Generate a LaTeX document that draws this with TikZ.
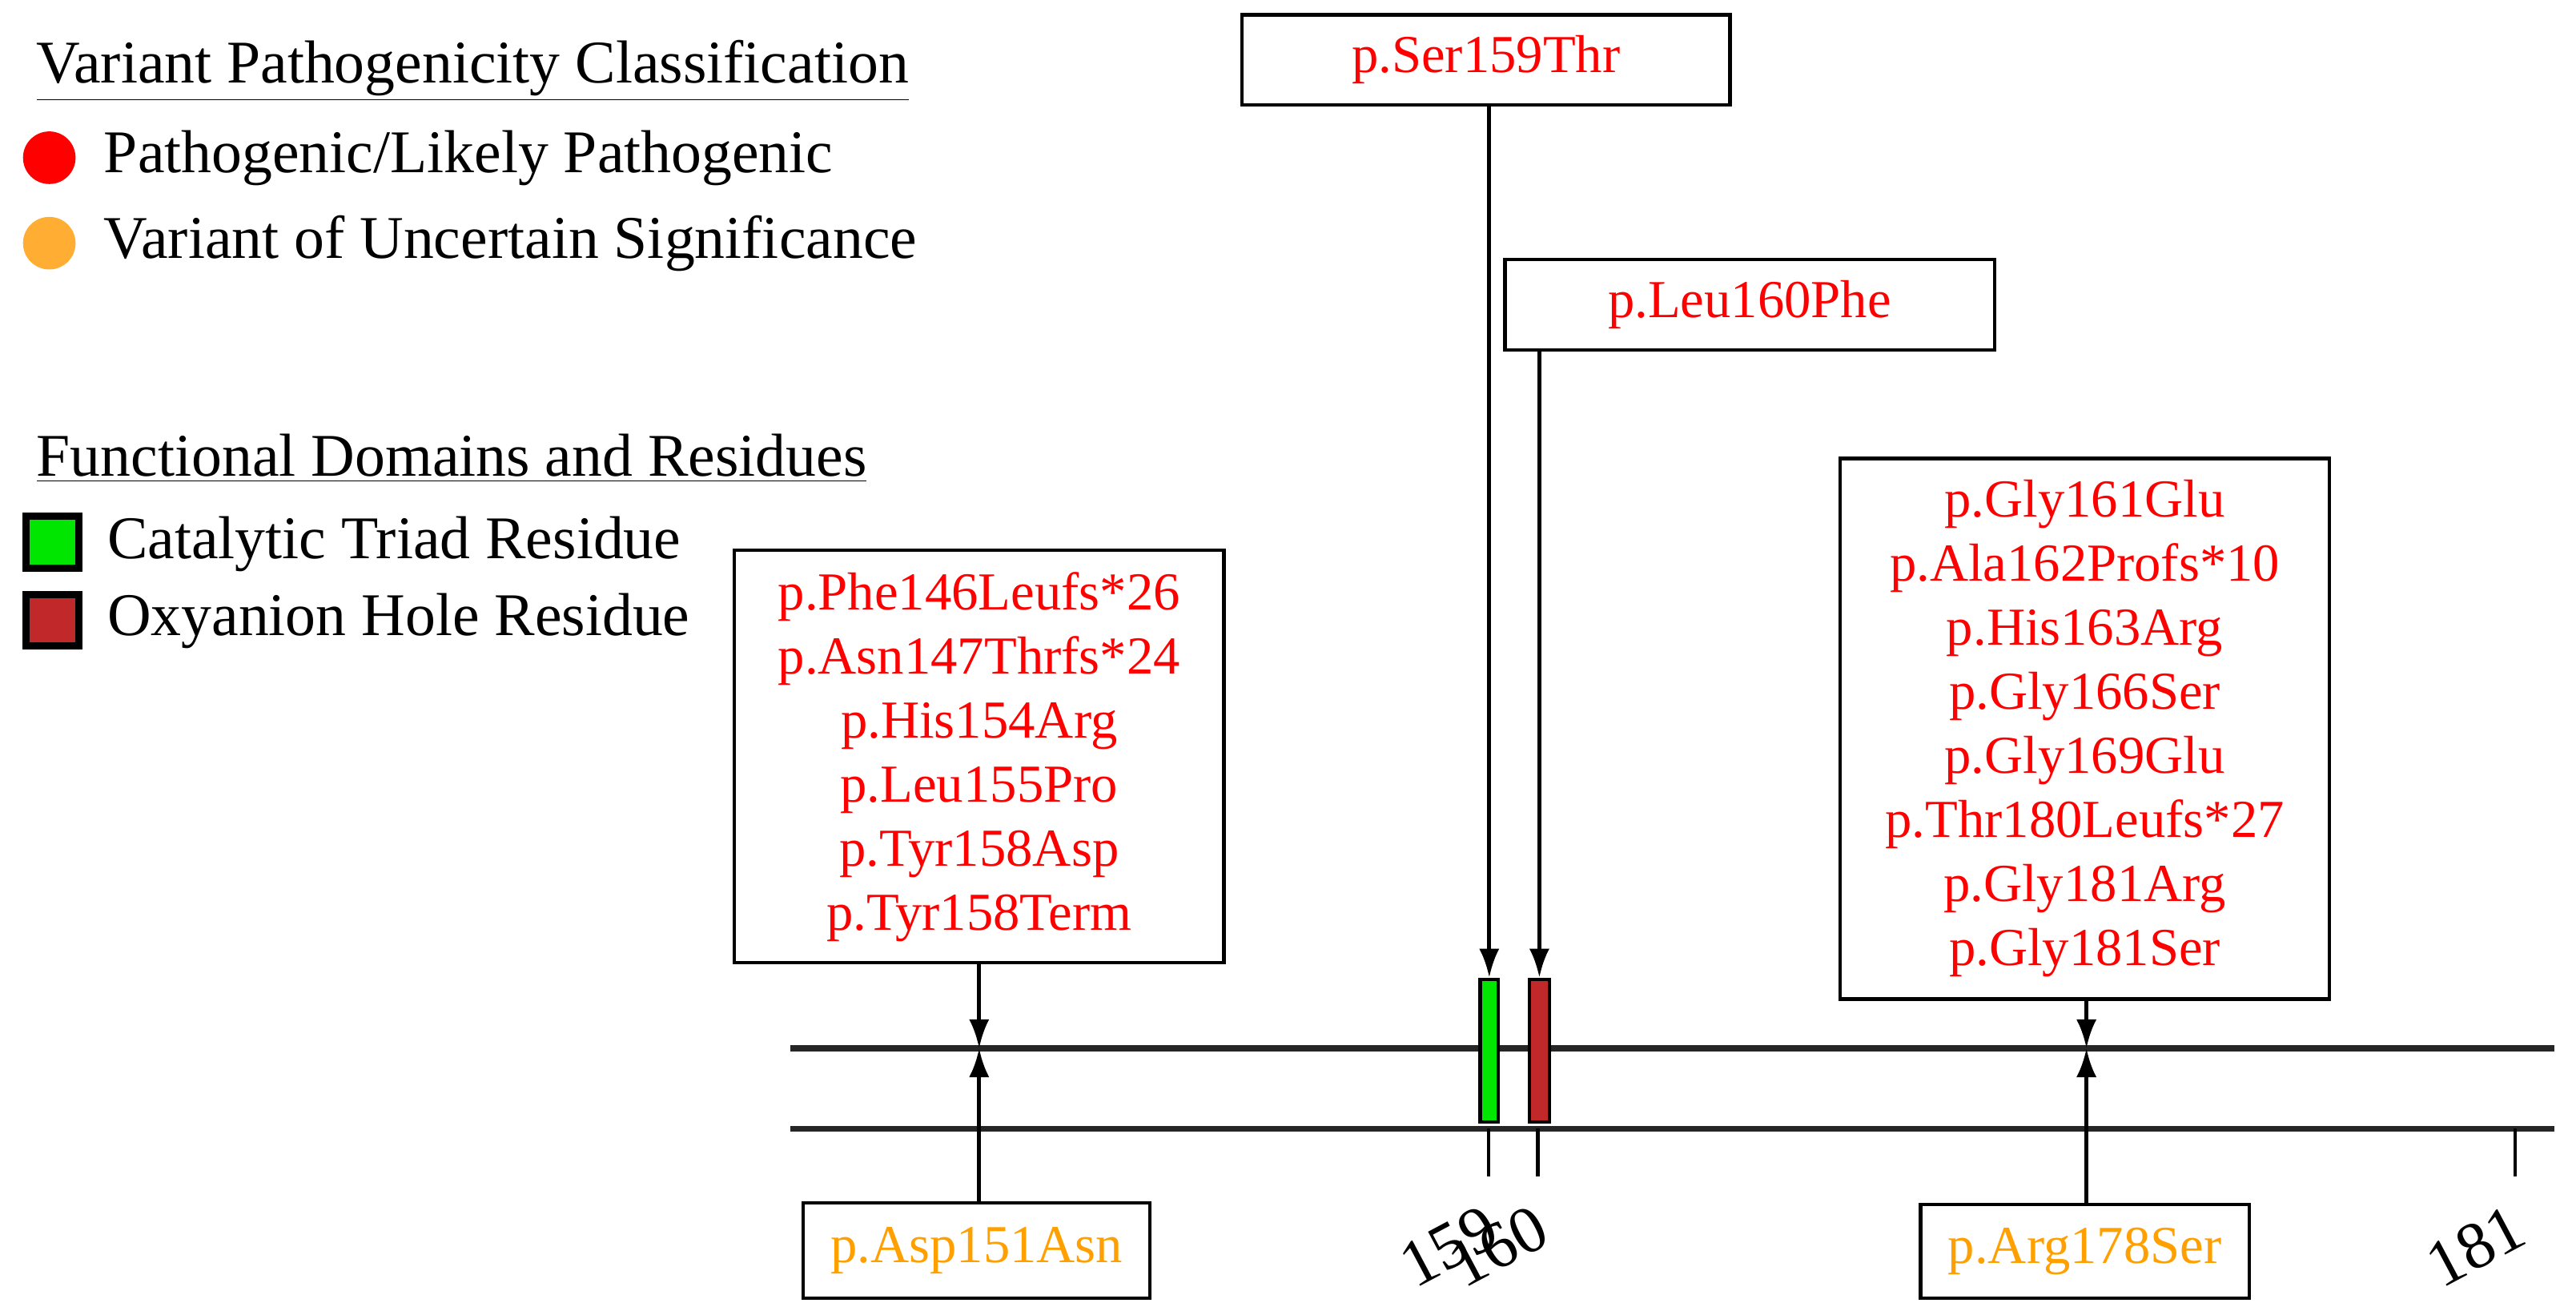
\documentclass[tikz,border=0pt]{standalone}
\usepackage{fontspec}
\setmainfont{Liberation Serif}
\usetikzlibrary{arrows.meta}
\definecolor{vus}{HTML}{FFA000}
\definecolor{vusdot}{HTML}{FFAD33}
\definecolor{oxy}{HTML}{C0282A}
\definecolor{cat}{HTML}{00E600}
\begin{document}
\begin{tikzpicture}[x=0.02cm,y=-0.02cm,
  txt/.style={font=\fontsize{21}{24}\selectfont,inner sep=0pt},
  box/.style={draw,line width=1.2pt,minimum height=#1*0.02cm,align=center,font=\fontsize{18.5}{22.2}\selectfont,text=red,inner sep=0pt},
  arr/.style={line width=1.4pt,-{Latex[length=10pt,width=7pt]}},
  res/.style={draw,line width=1.2pt,inner sep=0pt}]
\useasboundingbox (0,0) rectangle (1568,800);
% legend
\node[txt,anchor=west] (t1) at (22,43) {\underline{Variant Pathogenicity Classification}};
\fill[red] (30,96) circle (16);
\node[txt,anchor=west] (l1) at (63,96) {Pathogenic/Likely Pathogenic};
\fill[vusdot] (30,148) circle (16);
\node[txt,anchor=west] (l2) at (63,148) {Variant of Uncertain Significance};
\node[txt,anchor=west] (t2) at (22,279) {\underline{Functional Domains and Residues}};
\draw[line width=2.5pt,fill=cat] (16,314) rectangle (48,346);
\node[txt,anchor=west] (l3) at (65,331) {Catalytic Triad Residue};
\draw[line width=2.5pt,fill=oxy] (16,362) rectangle (48,393);
\node[txt,anchor=west] (l4) at (65,378) {Oxyanion Hole Residue};
% protein lines
\draw[line width=2pt,black!85] (481,638) -- (1555,638);
\draw[line width=2pt,black!85] (481,687) -- (1555,687);
\coordinate (top1) at (596,638);
\coordinate (top2) at (1270,638);
% ticks
\foreach \x/\l in {906/159,936/160,1531/181}{
  \draw[line width=1.2pt] (\x,687) -- (\x,716);
  \node[txt,font=\fontsize{23}{24}\selectfont,rotate=28,anchor=east] at (\x+3,744) {\l};
}
% residues
\node[res,fill=cat,minimum width=0.22cm,minimum height=1.74cm] (c159) at (906.5,639.5) {};
\node[res,fill=oxy,minimum width=0.24cm,minimum height=1.74cm] (o160) at (937,639.5) {};
% boxes
\node[box=55,minimum width=5.94cm] (b1) at (904.5,36.5) {p.Ser159Thr};
\node[box=55,minimum width=5.96cm] (b2) at (1065,185.5) {p.Leu160Phe};
\node[box=251,minimum width=5.96cm] (b3) at (596,460.5) {p.Phe146Leufs*26\\p.Asn147Thrfs*24\\p.His154Arg\\p.Leu155Pro\\p.Tyr158Asp\\p.Tyr158Term};
\node[box=329,minimum width=5.96cm] (b4) at (1269,443.5) {p.Gly161Glu\\p.Ala162Profs*10\\p.His163Arg\\p.Gly166Ser\\p.Gly169Glu\\p.Thr180Leufs*27\\p.Gly181Arg\\p.Gly181Ser};
\node[box=58,minimum width=4.22cm,text=vus] (b5) at (594.5,761) {p.Asp151Asn};
\node[box=57,minimum width=4.0cm,text=vus] (b6) at (1269,761.5) {p.Arg178Ser};
% arrows
\draw[arr] (b1.south -| c159) -- (c159.north);
\draw[arr] (b2.south -| o160) -- (o160.north);
\draw[arr] (b3.south -| top1) -- (top1);
\draw[arr] (b5.north -| top1) -- (top1);
\draw[arr] (b4.south -| top2) -- (top2);
\draw[arr] (b6.north -| top2) -- (top2);
\end{tikzpicture}
\end{document}
